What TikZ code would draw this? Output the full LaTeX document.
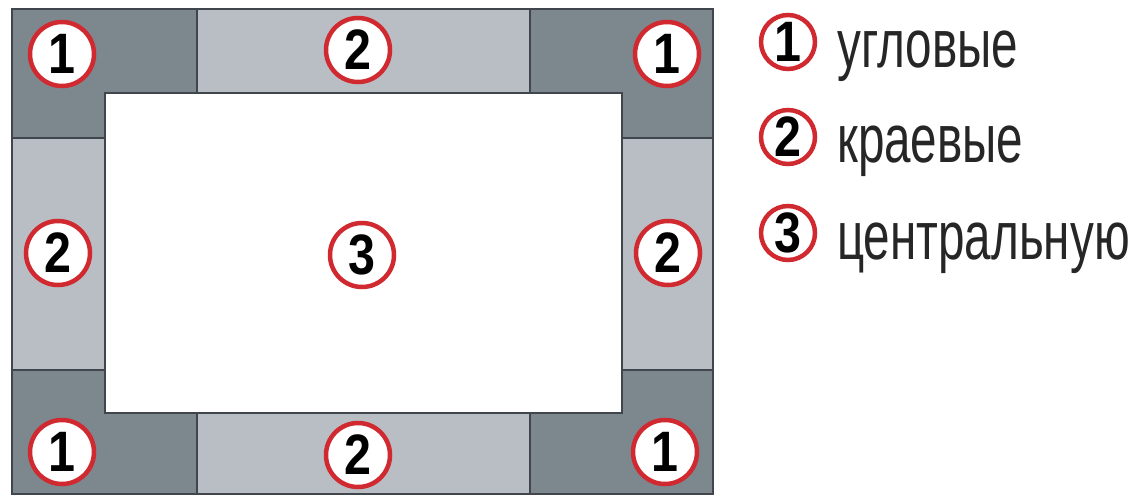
\documentclass[tikz,border=0pt]{standalone}
\usepackage{fontspec}
\setmainfont{Liberation Sans}
\newfontfamily\legendfont[FakeStretch=0.7]{Liberation Sans}
\newfontfamily\digitfont[FakeStretch=0.85]{Liberation Sans}
\definecolor{cornergray}{HTML}{7D878E}
\definecolor{edgegray}{HTML}{B9BEC4}
\definecolor{tileline}{HTML}{40464B}
\definecolor{ringred}{HTML}{D02A30}

\begin{document}
\begin{tikzpicture}[x=1pt, y=-1pt,
  corner/.style={fill=cornergray, draw=tileline, line width=2pt},
  num/.style={circle, draw=ringred, line width=4.5pt, fill=white,
    minimum size=64pt, inner sep=0pt,
    font=\digitfont\bfseries\fontsize{57}{57}\selectfont},
  numsmall/.style={num, minimum size=54pt},
  legend/.style={anchor=base west, inner sep=0pt,
    font=\legendfont\fontsize{68}{68}\selectfont, text=black!85}]
  \useasboundingbox (0,0) rectangle (1142,497);
  % edge tiles
  \fill[edgegray] (12,9) rectangle (713,494);
  % corner tiles
  \draw[corner] (12,9) -| (197,93) -| (105,138) -| (12,9) -- cycle;
  \draw[corner] (713,9) -| (530,93) -| (622,138) -| (713,9) -- cycle;
  \draw[corner] (12,494) -| (197,413) -| (105,370) -| (12,494) -- cycle;
  \draw[corner] (713,494) -| (530,413) -| (622,370) -| (713,494) -- cycle;
  % centre
  \draw[fill=white, draw=tileline, line width=2pt] (105,93) rectangle (622,413);
  \draw[draw=tileline, line width=2pt] (12,9) rectangle (713,494);
  % labels
  \node[num] (tl) at (62,54)  {1};
  \node[num] (tr) at (667,54) {1};
  \node[num] (bl) at (62,452) {1};
  \node[num] (br) at (665,452) {1};
  \node[num] (top)    at (358,50)  {2};
  \node[num] (left)   at (58,253)  {2};
  \node[num] (right)  at (668,253) {2};
  \node[num] (bottom) at (358,455) {2};
  \node[num] (centre) at (362,255) {3};
  % legend
  \node[numsmall] (key1) at (788,42)  {1};
  \node[numsmall] (key2) at (788,137) {2};
  \node[numsmall] (key3) at (788,233) {3};
  \node[legend] (txt1) at (837,68)  {угловые};
  \node[legend] (txt2) at (837,163) {краевые};
  \node[legend] (txt3) at (837,259) {центральную};
\end{tikzpicture}
\end{document}
